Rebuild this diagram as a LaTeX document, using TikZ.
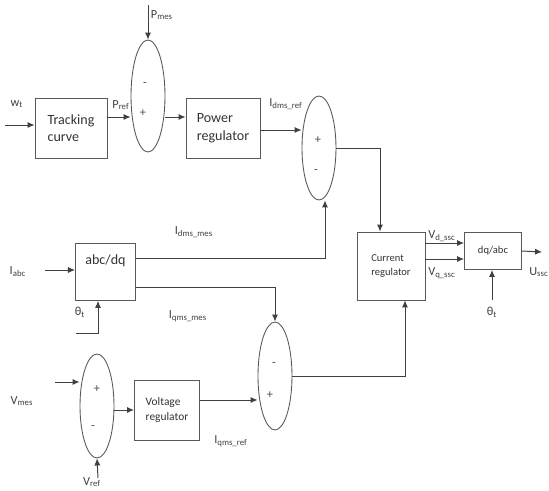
\documentclass[tikz,border=0pt]{standalone}
\usepackage{fontspec}
\setmainfont{Carlito}
\usetikzlibrary{shapes.geometric,arrows.meta}
\tikzset{
  blk/.style={draw=black!65, line width=0.5pt, minimum width=#1, align=left, inner sep=3pt, text=black!80},
  sumel/.style={draw=black!65, line width=0.5pt, ellipse, inner sep=0pt, minimum width=0.68cm},
  wire/.style={draw=black!75, line width=0.55pt},
  arr/.style={wire, -{Latex[length=4pt,width=3.5pt]}},
  lbl/.style={font=\fontsize{7}{8}\selectfont, text=black!75, inner sep=1pt},
  sgn/.style={font=\fontsize{7}{8}\selectfont, text=black!70, inner sep=0pt}
}
\begin{document}
\begin{tikzpicture}[x=0.02cm, y=-0.02cm, font=\fontsize{8}{10}\selectfont]
    \useasboundingbox (0,0) rectangle (549,491);

    % bloques
    \node[blk=1.44cm, minimum height=1.2cm] (track) at (71,128) {Tracking\\curve};
    \node[blk=1.48cm, minimum height=1.2cm] (power) at (223,128) {Power\\regulator};
    \node[blk=1.36cm, minimum height=1.36cm, font=\fontsize{6}{8}\selectfont] (cur) at (391,266) {Current\\regulator};
    \node[blk=1.14cm, minimum height=0.74cm, font=\fontsize{6}{8}\selectfont] (dqabc) at (493,251) {dq/abc};
    \node[blk=1.2cm, minimum height=1.14cm, anchor=north west] (abcdq) at (75,243) {abc/dq\\[4pt]\mbox{}};
    \node[blk=1.3cm, minimum height=1.2cm, font=\fontsize{6.5}{9}\selectfont] (volt) at (167,410) {Voltage\\regulator};

    % sumadores
    \node[sumel, minimum height=2.24cm] (sum1) at (148,96) {};
    \node[sumel, minimum height=2.08cm] (sum2) at (319,148) {};
    \node[sumel, minimum height=2.16cm] (sum3) at (275,376) {};
    \node[sumel, minimum height=2.08cm] (sum4) at (97,406) {};

    % signos
    \node[sgn] (s1a) at (145,85) {-};
    \node[sgn] (s1b) at (143,113) {+};
    \node[sgn] (s2a) at (318,140) {+};
    \node[sgn] (s2b) at (316,172) {-};
    \node[sgn] (s3a) at (274,365) {-};
    \node[sgn] (s3b) at (270,395) {+};
    \node[sgn] (s4a) at (97,389) {+};
    \node[sgn] (s4b) at (93,428) {-};

    % entradas libres
    \coordinate (win) at (5,125);
    \coordinate (pin) at (148,5);
    \coordinate (iin) at (45,270);
    \coordinate (thin) at (76,333);
    \coordinate (vin) at (55,382);
    \coordinate (vref) at (98,478);
    \coordinate (th2) at (492,300);
    \coordinate (uout) at (542,252);

    % conexiones
    \draw[arr] (win) -- (win -| track.west);
    \draw[arr] (pin) -- (sum1.north);
    \draw[arr] (track.east |- 0,117) -- (sum1.west |- 0,117);
    \draw[arr] (sum1.east |- 0,117) -- (power.west |- 0,117);
    \draw[arr] (power.east |- 0,130) -- (sum2.west |- 0,130);
    \draw[arr] (sum2.east) -| (cur.north -| 380,0);
    \draw[arr] (iin) -- (iin -| abcdq.west);
    \draw[arr] (thin) -| (abcdq.south -| 98,0);
    \draw[arr] (abcdq.east |- 0,258) -| (sum2.south -| 325,0);
    \draw[arr] (abcdq.east |- 0,287) -| (sum3.north);
    \draw[arr] (vin) -- (vin -| sum4.west);
    \draw[arr] (vref) -- (sum4.south);
    \draw[arr] (sum4.east |- 0,410) -- (volt.west |- 0,410);
    \draw[arr] (volt.east |- 0,400) -- (sum3.west |- 0,400);
    \draw[arr] (sum3.east) -| (cur.south -| 405,0);
    \draw[arr] (cur.east |- 0,243) -- (dqabc.west |- 0,243);
    \draw[arr] (cur.east |- 0,259) -- (dqabc.west |- 0,259);
    \draw[arr] (th2) -- (dqabc.south -| th2);
    \draw[arr] (dqabc.east) -- (uout);

    % etiquetas
    \node[lbl] (lw) at (17,104) {w\textsubscript{t}};
    \node[lbl] (lpref) at (121,105) {P\textsubscript{ref}};
    \node[lbl] (lpmes) at (162,15) {P\textsubscript{mes}};
    \node[lbl] (lidref) at (286,104) {I\textsubscript{dms\_ref}};
    \node[lbl] (lidmes) at (194,232) {I\textsubscript{dms\_mes}};
    \node[lbl] (liqmes) at (188,316) {I\textsubscript{qms\_mes}};
    \node[lbl] (liqref) at (231,441) {I\textsubscript{qms\_ref}};
    \node[lbl] (liabc) at (18,272) {I\textsubscript{abc}};
    \node[lbl] (lth1) at (80,312) {θ\textsubscript{t}};
    \node[lbl] (lvmes) at (22,401) {V\textsubscript{mes}};
    \node[lbl] (lvref) at (92,482) {V\textsubscript{ref}};
    \node[lbl] (lvd) at (442,236) {V\textsubscript{d\_ssc}};
    \node[lbl] (lvq) at (442,273) {V\textsubscript{q\_ssc}};
    \node[lbl] (lu) at (539,272) {U\textsubscript{ssc}};
    \node[lbl] (lth2) at (492,312) {θ\textsubscript{t}};
\end{tikzpicture}
\end{document}
